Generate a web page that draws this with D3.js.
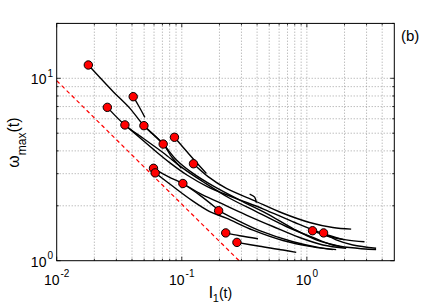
<!DOCTYPE html>
<html>
<head>
<meta charset="utf-8">
<script src="https://cdn.jsdelivr.net/npm/d3@7"></script>
<style>
  body { margin: 0; background: #fff; }
  text { font-family: "Liberation Sans", Arial, Helvetica, sans-serif; fill: #000; }
</style>
</head>
<body>
<script>
// start points of the trajectories (red dots)
var startL = [0.0179, 0.0409, 0.0254, 0.0351, 0.0498, 0.0874, 0.0710, 0.124,
              0.0594, 0.0613, 0.102, 0.197, 0.2245, 0.276, 1.11, 1.36];
var startW = [11.83, 7.93, 6.93, 5.55, 5.50, 4.75, 4.36, 3.40,
              3.21, 3.03, 2.65, 1.88, 1.42, 1.26, 1.46, 1.42];

// trajectories l1(t), omega_max(t)
var traj1  = [[0.0179,11.83],[0.0283,8.45],[0.0385,6.84],[0.0498,5.50],[0.0710,4.36],[0.0827,3.72],[0.0994,3.21]];
var traj2  = [[0.0409,7.93],[0.0448,7.14],[0.0507,6.11]];
var traj3  = [[0.0254,6.93],[0.0351,5.55],[0.0491,4.69],[0.0710,3.91],[0.1025,3.21],[0.148,2.71],[0.2416,2.20],[0.394,1.86],[0.684,1.54],[1.117,1.34],[1.613,1.22],[3.577,1.15]];
var traj4  = [[0.0498,5.50],[0.0710,4.36],[0.0907,3.57],[0.1231,3.01],[0.1778,2.57],[0.2904,2.15],[0.474,1.82],[0.774,1.50],[1.188,1.30],[1.824,1.20]];
var traj5  = [[0.0874,4.75],[0.1158,3.80],[0.1573,3.01]];
var traj6  = [[0.124,3.40],[0.1622,2.89],[0.2273,2.49],[0.371,2.15],[0.644,1.82],[1.051,1.62],[1.613,1.52],[2.26,1.49]];
var traj7  = [[0.0594,3.21],[0.0778,2.89],[0.102,2.65],[0.1391,2.34],[0.2011,2.08],[0.3282,1.78],[0.5356,1.54],[0.8743,1.34],[1.343,1.22],[2.062,1.17]];
var traj8  = [[0.0613,3.03],[0.0853,2.55],[0.1195,2.15],[0.1673,1.86],[0.2273,1.71],[0.371,1.47],[0.644,1.29],[1.117,1.19],[1.613,1.15]];
var traj9  = [[0.102,2.65],[0.1391,2.29],[0.1891,1.94]];
var traj10 = [[0.197,1.88],[0.2569,1.71],[0.4194,1.46],[0.774,1.27],[1.263,1.18],[1.715,1.15]];
var traj11 = [[0.2245,1.42],[0.2904,1.37],[0.4067,1.32]];
var traj12 = [[0.276,1.26],[0.4194,1.20],[0.644,1.145],[0.822,1.11]];
var traj13 = [[1.11,1.46],[1.428,1.37],[2.062,1.30],[2.888,1.27]];
var traj14 = [[1.36,1.42],[1.715,1.30],[2.33,1.22],[3.577,1.17]];
var traj15 = [[0.3488,2.32],[0.3825,2.23],[0.3944,2.08]];
var traj16 = [[0.0351,5.55],[0.0450,4.80],[0.0600,4.05],[0.0800,3.45],[0.1100,2.95],[0.1600,2.55],[0.2600,2.22],[0.4500,1.92],[0.8000,1.62],[1.300,1.42],[2.000,1.30]];
var trajectories = [traj1, traj2, traj3, traj4, traj5, traj6, traj7, traj8,
                    traj9, traj10, traj11, traj12, traj13, traj14, traj15, traj16];

// reference slope (red dashed)
var refL = [0.01, 0.287];
var refW = [9.7, 1];

var xMajor = [0.01, 0.1, 1];
var xMajorExp = ["-2", "-1", "0"];
var yMajor = [1, 10];
var yMajorExp = ["0", "1"];
var xMinor = [0.02,0.03,0.04,0.05,0.06,0.07,0.08,0.09,0.2,0.3,0.4,0.5,0.6,0.7,0.8,0.9,2,3,4];
var yMinor = [2,3,4,5,6,7,8,9,20];

var W = 436, H = 306;
var pLeft = 56.7, pRight = 394.3, pTop = 23.4, pBottom = 260.7;

var svg = d3.select("body").append("svg")
    .attr("width", W)
    .attr("height", H);

var x = d3.scaleLog().domain([0.01, 5]).range([pLeft, pRight]);
var y = d3.scaleLog().domain([1, 20]).range([pBottom, pTop]);

// grid
var grid = svg.append("g")
    .attr("stroke", "#8c8c8c")
    .attr("stroke-width", 0.8)
    .attr("stroke-dasharray", "1,2");

grid.selectAll(".gx")
    .data(xMajor.concat(xMinor).filter(function(d) { return d > 0.01; }))
    .enter().append("line")
    .attr("x1", function(d) { return x(d); })
    .attr("x2", function(d) { return x(d); })
    .attr("y1", pBottom)
    .attr("y2", pTop);

grid.selectAll(".gy")
    .data(yMajor.concat(yMinor).filter(function(d) { return d > 1 && d < 20; }))
    .enter().append("line")
    .attr("y1", function(d) { return y(d); })
    .attr("y2", function(d) { return y(d); })
    .attr("x1", pLeft)
    .attr("x2", pRight);

// inward ticks
var ticks = svg.append("g").attr("stroke", "#000").attr("stroke-width", 0.8);
function xTick(v, len) {
    ticks.append("line").attr("x1", x(v)).attr("x2", x(v)).attr("y1", pBottom).attr("y2", pBottom - len);
    ticks.append("line").attr("x1", x(v)).attr("x2", x(v)).attr("y1", pTop).attr("y2", pTop + len);
}
function yTick(v, len) {
    ticks.append("line").attr("y1", y(v)).attr("y2", y(v)).attr("x1", pLeft).attr("x2", pLeft + len);
    ticks.append("line").attr("y1", y(v)).attr("y2", y(v)).attr("x1", pRight).attr("x2", pRight - len);
}
xMajor.forEach(function(v) { xTick(v, 4); });
xMinor.forEach(function(v) { xTick(v, 2); });
yMajor.forEach(function(v) { yTick(v, 4); });
yMinor.forEach(function(v) { yTick(v, 2); });

// reference line
var line = d3.line()
    .x(function(d) { return x(d[0]); })
    .y(function(d) { return y(d[1]); });

svg.append("path")
    .datum(refL.map(function(d, i) { return [d, refW[i]]; }))
    .attr("d", line)
    .attr("fill", "none")
    .attr("stroke", "#ff0000")
    .attr("stroke-width", 1.2)
    .attr("stroke-dasharray", "4,3");

// trajectories
var curve = d3.line()
    .x(function(d) { return x(d[0]); })
    .y(function(d) { return y(d[1]); })
    .curve(d3.curveCatmullRom.alpha(0.5));

svg.append("g").selectAll("path")
    .data(trajectories)
    .enter().append("path")
    .attr("d", curve)
    .attr("fill", "none")
    .attr("stroke", "#000")
    .attr("stroke-width", 1.4);

// start markers
svg.append("g").selectAll("circle")
    .data(startL)
    .enter().append("circle")
    .attr("cx", function(d) { return x(d); })
    .attr("cy", function(d, i) { return y(startW[i]); })
    .attr("r", 4.2)
    .attr("fill", "#ff0000")
    .attr("stroke", "#000")
    .attr("stroke-width", 1);

// frame
svg.append("rect")
    .attr("x", pLeft).attr("y", pTop)
    .attr("width", pRight - pLeft).attr("height", pBottom - pTop)
    .attr("fill", "none")
    .attr("stroke", "#000")
    .attr("stroke-width", 1);

// tick labels
xMajor.forEach(function(v, i) {
    var t = svg.append("text")
        .attr("x", x(v))
        .attr("y", 284.5)
        .attr("text-anchor", "middle")
        .style("font-size", "14px");
    t.append("tspan").text("10");
    t.append("tspan").attr("dx", 1).attr("dy", -7.5).style("font-size", "10px").text(xMajorExp[i]);
});
yMajor.forEach(function(v, i) {
    var t = svg.append("text")
        .attr("x", 53)
        .attr("y", y(v) + 6)
        .attr("text-anchor", "end")
        .style("font-size", "14px");
    t.append("tspan").text("10");
    t.append("tspan").attr("dx", 1).attr("dy", -7.5).style("font-size", "10px").text(yMajorExp[i]);
});

// axis labels
var xl = svg.append("text")
    .attr("x", 209)
    .attr("y", 297.5)
    .style("font-size", "14px");
xl.append("tspan").style("font-size", "17px").text("l");
xl.append("tspan").attr("dy", 4).style("font-size", "11px").text("1");
xl.append("tspan").attr("dy", -4).text("(t)");

var yl = svg.append("text")
    .attr("transform", "translate(18.5,142.5) rotate(-90)")
    .attr("text-anchor", "middle")
    .style("font-size", "16px");
yl.append("tspan").text("\u03c9");
yl.append("tspan").attr("dy", 7).style("font-size", "12px").text("max");
yl.append("tspan").attr("dy", -7).text("(t)");

svg.append("text")
    .attr("x", 401)
    .attr("y", 41)
    .style("font-size", "15px")
    .text("(b)");
</script>
</body>
</html>
